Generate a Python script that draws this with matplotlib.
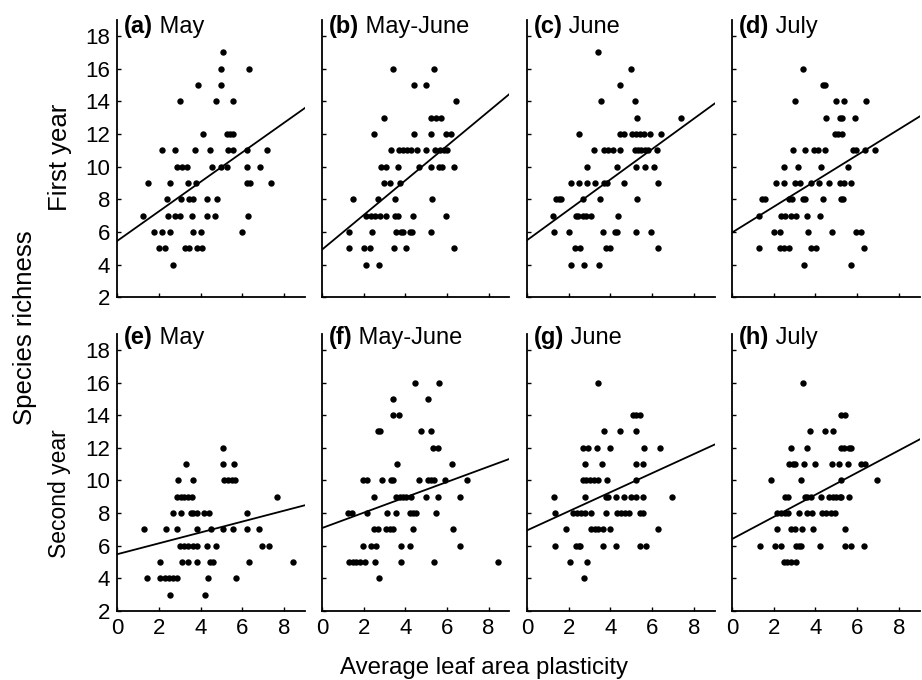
import matplotlib
matplotlib.use("Agg")
import matplotlib.pyplot as plt

plt.rcParams['font.family'] = ['Liberation Sans', 'DejaVu Sans']

# species richness -> average leaf area plasticity of the plots with that richness
may_1 = {17: [5.09], 16: [5.0, 6.34], 15: [3.89, 5.0], 14: [3.0, 4.74, 5.57],
         12: [4.13, 5.25, 5.4, 5.57],
         11: [2.13, 2.77, 3.73, 4.45, 5.33, 5.57, 6.24, 7.17],
         10: [2.85, 3.09, 3.33, 4.53, 5.0, 5.28, 6.24, 6.85],
         9: [1.49, 2.53, 3.41, 3.78, 6.21, 6.37, 7.36],
         8: [2.37, 3.04, 3.46, 3.65, 4.29, 4.77],
         7: [1.25, 2.45, 2.77, 3.01, 3.57, 4.32, 4.69, 6.29],
         6: [1.76, 2.13, 2.53, 3.62, 4.0, 5.97],
         5: [2.02, 2.29, 3.25, 3.46, 3.81, 4.05], 4: [2.69]}
mayjune_1 = {16: [3.41, 5.36], 15: [4.42, 5.0], 14: [6.45], 13: [3.0, 5.25, 5.49, 5.70],
             12: [2.48, 4.42, 5.25, 5.97, 6.18],
             11: [3.33, 3.70, 3.89, 4.10, 4.29, 4.58, 5.0, 5.41, 5.65, 5.86, 6.02],
             10: [2.85, 3.09, 3.65, 4.64, 5.22, 5.62, 5.78, 6.34],
             9: [3.0, 3.25, 3.76], 8: [1.49, 2.69, 3.49, 5.28],
             7: [2.13, 2.34, 2.53, 2.77, 3.06, 3.52, 3.65, 4.37, 5.97],
             6: [1.28, 2.4, 3.57, 3.78, 3.89, 4.21, 4.32, 5.25],
             5: [1.28, 2.02, 2.32, 3.46, 4.05, 6.34], 4: [2.1, 2.72]}
june_1 = {17: [3.41], 16: [5.0], 15: [4.45], 14: [3.54, 5.17], 13: [5.28, 7.38],
          12: [2.48, 4.45, 4.64, 5.06, 5.25, 5.44, 5.6, 5.92, 6.45],
          11: [3.2, 3.70, 3.89, 4.13, 4.45, 5.17, 5.33, 5.49, 5.65, 5.81, 6.24],
          10: [2.9, 4.32, 5.25, 5.65, 6.08],
          9: [2.13, 2.5, 2.9, 3.25, 3.7, 3.85, 4.64, 6.3],
          8: [1.41, 1.54, 1.65, 2.69, 3.52, 5.28],
          7: [1.25, 2.34, 2.45, 2.69, 2.85, 3.09, 4.37],
          6: [1.28, 2.02, 3.65, 4.21, 4.32, 5.25, 5.97],
          5: [2.29, 2.53, 3.78, 4.0, 6.29], 4: [2.1, 2.72, 3.46]}
july_1 = {16: [3.41], 15: [4.34, 4.45], 14: [3.0, 5.0, 5.38, 6.45],
          13: [4.5, 5.17, 5.28, 5.89], 12: [4.93, 5.09, 5.28],
          11: [2.93, 3.49, 3.94, 4.1, 4.45, 5.78, 5.97, 6.37, 6.88],
          10: [2.5, 3.17, 4.29, 5.57],
          9: [2.13, 2.5, 3.04, 3.25, 3.78, 4.18, 4.66, 5.17, 5.38, 5.7],
          8: [1.44, 1.6, 2.72, 2.88, 3.41, 3.52, 4.37, 5.25, 5.33],
          7: [1.28, 2.37, 2.53, 2.82, 3.06, 3.62, 4.24],
          6: [2.02, 2.29, 3.65, 4.8, 5.97, 6.21],
          5: [1.28, 2.29, 2.5, 2.72, 3.78, 4.02, 6.34], 4: [3.44, 5.7]}

may_2 = {12: [5.09], 11: [3.3, 5.09, 5.62], 10: [2.9, 3.65, 5.12, 5.33, 5.49, 5.65],
         9: [2.85, 3.04, 3.2, 3.41, 3.57, 7.65],
         8: [2.69, 3.04, 3.52, 3.65, 3.81, 4.16, 4.42, 6.24],
         7: [1.28, 2.32, 2.85, 3.81, 4.48, 5.06, 5.54, 6.21, 6.8],
         6: [3.01, 3.2, 3.41, 3.62, 3.84, 4.29, 4.74, 6.93, 7.3],
         5: [2.05, 3.09, 3.41, 3.84, 4.45, 4.58, 6.34, 8.45],
         4: [1.44, 2.05, 2.29, 2.5, 2.69, 2.88, 4.37, 5.7], 3: [2.53, 4.21]}
mayjune_2 = {16: [4.45, 5.6], 15: [3.41, 5.09], 14: [3.41, 3.68],
             13: [2.69, 2.8, 4.74, 5.25], 12: [5.33, 5.57], 11: [3.62, 6.24],
             10: [1.97, 2.16, 2.88, 3.3, 3.41, 4.64, 5.09, 5.25, 5.38, 5.89, 6.94],
             9: [2.5, 3.57, 3.73, 3.89, 4.05, 4.26, 5.0, 5.57, 6.64],
             8: [1.25, 1.46, 2.16, 3.14, 3.57, 4.21, 4.37, 4.5, 5.49],
             7: [2.48, 2.69, 3.09, 3.25, 3.41, 4.37, 6.3],
             6: [1.97, 2.37, 2.61, 3.81, 4.24, 6.61],
             5: [1.28, 1.49, 1.65, 1.84, 2.05, 2.53, 3.81, 5.38, 8.45], 4: [2.72]}
june_2 = {16: [3.41], 14: [5.09, 5.25, 5.41], 13: [3.68, 4.45, 5.25],
          12: [2.69, 2.93, 3.36, 4.0, 5.6, 6.4], 11: [2.77, 3.62, 5.22, 5.57],
          10: [2.69, 2.85, 3.04, 3.2, 3.41, 3.84, 5.22],
          9: [1.28, 2.77, 3.78, 3.89, 4.26, 4.64, 5.0, 5.25, 5.57, 6.96],
          8: [1.33, 2.21, 2.4, 2.61, 2.8, 3.09, 3.81, 4.32, 4.53, 4.69, 4.9, 5.44, 5.57],
          7: [1.86, 3.09, 3.25, 3.41, 3.65, 3.97, 6.29],
          6: [1.33, 2.34, 2.5, 2.56, 3.65, 4.26, 5.44, 5.7],
          5: [2.08, 2.88], 4: [2.72]}
july_2 = {16: [3.41], 14: [5.22, 5.41], 13: [3.73, 4.45, 4.82],
          12: [2.82, 3.62, 5.25, 5.38, 5.6, 5.73],
          11: [2.72, 2.93, 3.04, 3.44, 4.0, 4.8, 5.12, 5.57, 6.18, 6.37],
          10: [1.86, 3.3, 5.22, 6.96],
          9: [2.56, 2.69, 3.49, 3.62, 3.78, 4.26, 4.64, 4.85, 5.01, 5.17, 5.25, 5.6],
          8: [2.18, 2.37, 2.56, 2.69, 3.2, 3.62, 3.84, 4.32, 4.53, 4.74, 4.93],
          7: [2.16, 2.82, 3.01, 3.36, 3.89, 5.44],
          6: [1.33, 2.05, 2.37, 3.09, 3.2, 3.33, 4.21, 5.44, 5.7, 6.34],
          5: [2.5, 2.66, 2.82, 3.09]}

# regression lines
intercepts = [5.45, 4.91, 5.49, 5.96, 5.48, 7.08, 6.94, 6.41]
slopes = [0.904, 1.06, 0.93, 0.79, 0.333, 0.471, 0.584, 0.678]

letters = ['(a)', '(b)', '(c)', '(d)', '(e)', '(f)', '(g)', '(h)']
periods = ['May', 'May-June', 'June', 'July', 'May', 'May-June', 'June', 'July']
panels = [may_1, mayjune_1, june_1, july_1, may_2, mayjune_2, june_2, july_2]

x_ticks = [0, 2, 4, 6, 8]
y_ticks = [2, 4, 6, 8, 10, 12, 14, 16, 18]


def flatten(d):
    xs, ys = [], []
    for rich, vals in d.items():
        for v in vals:
            xs.append(v)
            ys.append(rich)
    return xs, ys


fig = plt.figure(figsize=(9.22, 6.8), dpi=100)

lefts = [0.1272, 0.3492, 0.5716, 0.794]
bottoms = [0.563, 0.1015]
w, h = 0.2034, 0.408
title_y = [18.2, 18.35]

for i in range(8):
    row, col = i // 4, i % 4
    ax = fig.add_axes([lefts[col], bottoms[row], w, h])
    xs, ys = flatten(panels[i])
    ax.plot(xs, ys, 'o', color='black', markersize=4.6, markeredgewidth=0)
    ax.plot([0, 9], [intercepts[i], intercepts[i] + slopes[i] * 9],
            color='black', lw=1.3)
    ax.set_xlim(0, 9)
    ax.set_ylim(2, 19)
    ax.set_xticks(x_ticks)
    ax.set_yticks(y_ticks)
    for s in ['top', 'right']:
        ax.spines[s].set_visible(False)
    for s in ['left', 'bottom']:
        ax.spines[s].set_linewidth(1.3)
    ax.tick_params(direction='in', length=3, width=1, labelsize=16, pad=5)
    if col != 0:
        ax.set_yticklabels([])
    if row == 0:
        ax.set_xticklabels([])
    t = ax.text(0.035, title_y[row], letters[i], fontsize=17, fontweight='bold',
                transform=ax.get_yaxis_transform(), va='baseline', ha='left')
    ax.annotate(' ' + periods[i], xy=(1, 0), xycoords=t, fontsize=17,
                va='bottom', ha='left')

fig.text(0.027, 0.518, 'Species richness', rotation=90, fontsize=18.5,
         ha='center', va='center')
fig.text(0.065, 0.768, 'First year', rotation=90, fontsize=18.5,
         ha='center', va='center')
fig.text(0.065, 0.274, 'Second year', rotation=90, fontsize=16.5,
         ha='center', va='center')
fig.text(0.525, 0.018, 'Average leaf area plasticity', fontsize=17.3,
         ha='center', va='center')

fig.savefig('out.png', dpi=100)
